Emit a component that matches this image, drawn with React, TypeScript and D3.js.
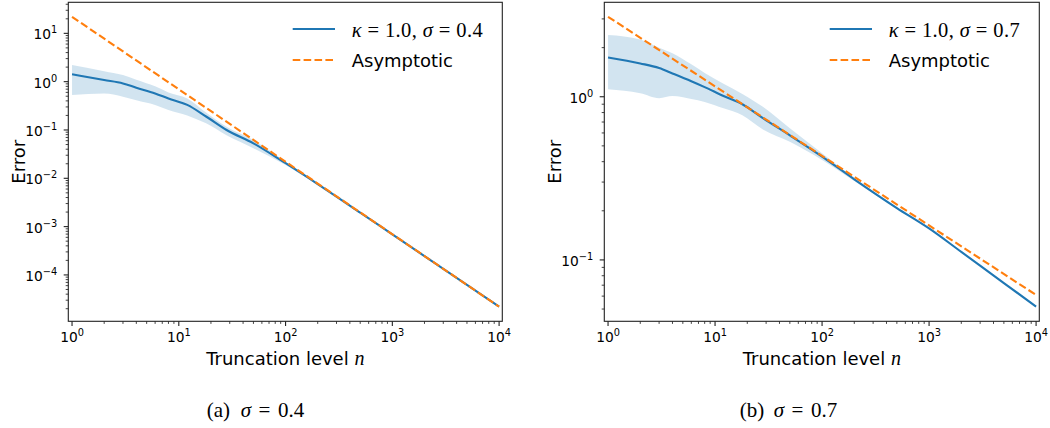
import React from "react";
import * as d3 from "d3";

// ---------- data ----------
const truncationN = [1, 2, 3, 4, 6, 8, 12, 18, 28, 50, 100, 200, 500, 1000, 2000, 5000, 10000];

// sigma = 0.4
const meanA = [1.42, 1.08, 0.92, 0.75, 0.57, 0.45, 0.33, 0.19, 0.10, 0.053, 0.0205, 0.0076, 0.00195, 6.9e-4, 2.45e-4, 6.2e-5, 2.2e-5];
const upperA = [2.2, 1.65, 1.37, 1.1, 0.8, 0.6, 0.45, 0.23, 0.117, 0.062, 0.022, 0.0079, 0.002, 7.0e-4, 2.47e-4, 6.25e-5, 2.21e-5];
const lowerA = [0.53, 0.57, 0.49, 0.41, 0.33, 0.26, 0.2, 0.137, 0.078, 0.042, 0.0188, 0.0073, 0.0019, 6.8e-4, 2.43e-4, 6.15e-5, 2.19e-5];

// sigma = 0.7
const meanB = [1.74, 1.6, 1.5, 1.39, 1.245, 1.146, 1.01, 0.9, 0.74, 0.58, 0.43, 0.312, 0.208, 0.156, 0.112, 0.0721, 0.0518];
const upperB = [2.39, 2.24, 2.0, 1.85, 1.58, 1.4, 1.2, 1.04, 0.867, 0.64, 0.45, 0.318, 0.21, 0.157, 0.1125, 0.0723, 0.052];
const lowerB = [1.11, 1.05, 0.98, 1.01, 0.97, 0.93, 0.85, 0.77, 0.63, 0.53, 0.41, 0.305, 0.206, 0.155, 0.1115, 0.0719, 0.0516];

// asymptotic straight lines (endpoints)
const asymN = [1, 10000];
const asymA = [22, 2.2e-5];
const asymB = [3.09, 0.061];

const xTickExps = [0, 1, 2, 3, 4];
const yTickExpsA = [-4, -3, -2, -1, 0, 1];
const yTickExpsB = [-1, 0];

const legendMain = "Asymptotic";
const sigmaA = "0.4";
const sigmaB = "0.7";
const kappaVal = "1.0";

// ---------- style ----------
const BLUE = "#1f77b4";
const ORANGE = "#ff7f0e";
const BAND = "rgba(31,119,180,0.2)";
const SANS = "'DejaVu Sans', sans-serif";
const SERIF = "'Liberation Serif', 'DejaVu Serif', serif";

type PanelProps = {
  id: string;
  left: number; right: number; top: number; bottom: number;
  mean: number[]; upper: number[]; lower: number[]; asym: number[];
  yExps: number[]; sigma: string; letter: string; captionX: number;
};

function supLabel(exp: number) {
  const s = exp < 0 ? "\u2212" + Math.abs(exp) : String(exp);
  return (
    <>
      10<tspan fontSize="9.8" dy="-6">{s}</tspan>
    </>
  );
}

function Panel(p: PanelProps) {
  const x = d3.scaleLog().domain([Math.pow(10, -0.035), Math.pow(10, 4.03)]).range([p.left, p.right]);
  const all = [...p.mean, ...p.upper, ...p.lower, ...p.asym];
  const lo = Math.log10(d3.min(all) as number);
  const hi = Math.log10(d3.max(all) as number);
  const m = (hi - lo) * 0.05;
  const y = d3.scaleLog().domain([Math.pow(10, lo - m), Math.pow(10, hi + m)]).range([p.bottom, p.top]);

  const pts = truncationN.map((n, i) => ({ n, v: p.mean[i], u: p.upper[i], l: p.lower[i] }));
  const line = d3.line<{ n: number; v: number }>().x((d) => x(d.n)).y((d) => y(d.v)).curve(d3.curveMonotoneX);
  const area = d3.area<{ n: number; u: number; l: number }>().x((d) => x(d.n)).y0((d) => y(d.l)).y1((d) => y(d.u)).curve(d3.curveMonotoneX);
  const straight = d3.line<{ n: number; v: number }>().x((d) => x(d.n)).y((d) => y(d.v));
  const asymPts = asymN.map((n, i) => ({ n, v: p.asym[i] }));

  const [dx0, dx1] = x.domain();
  const [dy0, dy1] = y.domain();
  const xMinor: number[] = [];
  for (let e = Math.floor(Math.log10(dx0)); e <= Math.ceil(Math.log10(dx1)); e++)
    for (let k = 2; k <= 9; k++) { const v = k * Math.pow(10, e); if (v >= dx0 && v <= dx1) xMinor.push(v); }
  const yMinor: number[] = [];
  for (let e = Math.floor(Math.log10(dy0)); e <= Math.ceil(Math.log10(dy1)); e++)
    for (let k = 2; k <= 9; k++) { const v = k * Math.pow(10, e); if (v >= dy0 && v <= dy1) yMinor.push(v); }

  const MAJ = 4.6, MIN = 2.6;
  const legX0 = p.right - 209.6, legX1 = p.right - 167.3, legT = p.right - 150.6;
  const cx = (p.left + p.right) / 2, cy = (p.top + p.bottom) / 2;
  const c = p.captionX;

  return (
    <g>
      <defs>
        <clipPath id={"clip" + p.id}>
          <rect x={p.left} y={p.top} width={p.right - p.left} height={p.bottom - p.top} />
        </clipPath>
      </defs>
      <g clipPath={`url(#clip${p.id})`}>
        <path d={area(pts) || ""} fill={BAND} stroke="none" />
        <path d={line(pts) || ""} fill="none" stroke={BLUE} strokeWidth={2.1} />
        <path d={straight(asymPts) || ""} fill="none" stroke={ORANGE} strokeWidth={2.1} strokeDasharray="7.6 3.3" />
      </g>
      <rect x={p.left} y={p.top} width={p.right - p.left} height={p.bottom - p.top} fill="none" stroke="#222" strokeWidth={1.1} />
      {/* x ticks */}
      {xMinor.map((v, i) => (
        <line key={"xm" + i} x1={x(v)} x2={x(v)} y1={p.bottom} y2={p.bottom + MIN} stroke="#222" strokeWidth={0.85} />
      ))}
      {xTickExps.map((e) => (
        <g key={"xt" + e}>
          <line x1={x(Math.pow(10, e))} x2={x(Math.pow(10, e))} y1={p.bottom} y2={p.bottom + MAJ} stroke="#222" strokeWidth={1.1} />
          <text x={x(Math.pow(10, e))} y={p.bottom + 20.4} textAnchor="middle" fontFamily={SANS} fontSize={13.8} fill="#000">
            {supLabel(e)}
          </text>
        </g>
      ))}
      {/* y ticks */}
      {yMinor.map((v, i) => (
        <line key={"ym" + i} x1={p.left} x2={p.left - MIN} y1={y(v)} y2={y(v)} stroke="#222" strokeWidth={0.85} />
      ))}
      {p.yExps.map((e) => (
        <g key={"yt" + e}>
          <line x1={p.left} x2={p.left - MAJ} y1={y(Math.pow(10, e))} y2={y(Math.pow(10, e))} stroke="#222" strokeWidth={1.1} />
          <text x={p.left - 11} y={y(Math.pow(10, e)) + 6} textAnchor="end" fontFamily={SANS} fontSize={13.8} fill="#000">
            {supLabel(e)}
          </text>
        </g>
      ))}
      {/* axis labels */}
      <text x={cx} y={365} textAnchor="middle" fontFamily={SANS} fontSize={18} fill="#000">
        Truncation level <tspan fontFamily={SERIF} fontStyle="italic" fontSize={20}>n</tspan>
      </text>
      <text transform={`translate(${p.left - 43.5},${cy}) rotate(-90)`} textAnchor="middle" fontFamily={SANS} fontSize={18} fill="#000">
        Error
      </text>
      {/* legend */}
      <line x1={legX0} x2={legX1} y1={29} y2={29} stroke={BLUE} strokeWidth={2.1} />
      <text x={legT} y={36.5} fontFamily={SERIF} fontSize={20.5} fill="#000" textLength={131} lengthAdjust="spacing">
        <tspan fontStyle="italic">κ</tspan> = {kappaVal}, <tspan fontStyle="italic">σ</tspan> = {p.sigma}
      </text>
      <line x1={legX0} x2={legX1} y1={60} y2={60} stroke={ORANGE} strokeWidth={2.1} strokeDasharray="7.6 3.3" />
      <text x={legT} y={66.5} fontFamily={SANS} fontSize={18} fill="#000">
        {legendMain}
      </text>
      {/* caption */}
      <g fontFamily={SERIF} fontSize={21} fill="#000">
        <text x={c - 52.3} y={416.5}>({p.letter})</text>
        <text x={c - 18.3} y={416.5} fontStyle="italic">σ</text>
        <text x={c - 0.5} y={416.5}>=</text>
        <text x={c + 19} y={416.5}>{p.sigma}</text>
      </g>
    </g>
  );
}

export default function App() {
  return (
    <svg width={1050} height={428} viewBox="0 0 1050 428" style={{ display: "block", position: "absolute", left: 0, top: 0, background: "#fff" }}>
      <rect x={0} y={0} width={1050} height={428} fill="#fff" />
      <Panel id="a" left={68.3} right={502.3} top={2.3} bottom={321.3} mean={meanA} upper={upperA} lower={lowerA} asym={asymA}
        yExps={yTickExpsA} sigma={sigmaA} letter="a" captionX={259} />
      <Panel id="b" left={604.3} right={1039.3} top={2.3} bottom={321.3} mean={meanB} upper={upperB} lower={lowerB} asym={asymB}
        yExps={yTickExpsB} sigma={sigmaB} letter="b" captionX={792} />
    </svg>
  );
}
